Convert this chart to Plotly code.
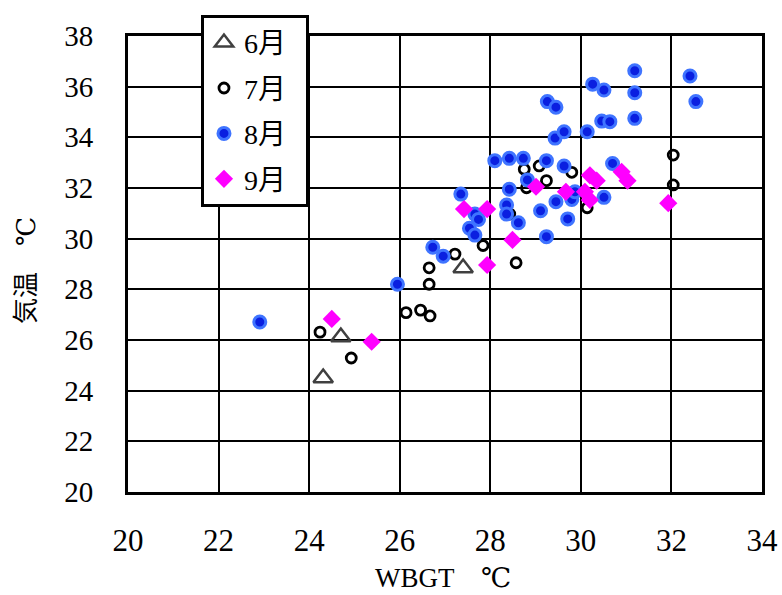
import plotly.graph_objects as go

# ---- data ----
jun_x = [24.70, 24.31, 27.40]
jun_y = [26.12, 24.50, 28.84]

jul_x = [24.24, 24.93, 26.14, 26.46, 26.67, 26.65, 26.65, 27.22, 27.84, 28.57,
         28.75, 29.08, 29.24, 28.80, 28.43, 29.80, 30.14, 32.04, 32.04]
jul_y = [26.31, 25.29, 27.08, 27.18, 26.95, 28.20, 28.85, 29.39, 29.73, 29.05,
         32.74, 32.87, 32.29, 32.01, 30.97, 32.62, 31.22, 33.30, 32.12]

aug_x = [22.91, 25.95, 26.73, 26.96, 27.35, 27.66, 27.74, 27.54, 27.66, 28.10,
         28.42, 28.73, 29.24, 29.63, 28.82, 28.42, 28.36, 28.36, 28.62, 29.11,
         29.45, 29.24, 29.43, 29.71, 29.80, 30.70, 29.87, 30.51, 31.19, 32.41,
         32.54, 30.26, 30.51, 31.19, 29.26, 29.45, 30.46, 30.64, 31.19, 29.63,
         30.14]
aug_y = [26.71, 28.20, 29.66, 29.31, 31.76, 30.97, 30.76, 30.41, 30.14, 33.08,
         33.17, 33.17, 33.08, 32.87, 32.32, 31.95, 31.33, 30.97, 30.63, 31.10,
         31.46, 30.08, 33.97, 30.78, 31.55, 32.97, 31.85, 31.63, 36.63, 36.42,
         35.41, 36.10, 35.87, 35.76, 35.41, 35.19, 34.64, 34.62, 34.75, 34.22,
         34.22]

sep_x = [24.50, 25.38, 27.42, 27.93, 28.49, 27.93, 29.01, 29.67, 30.20, 30.35,
         30.90, 31.03, 30.09, 30.20, 31.93]
sep_y = [26.83, 25.93, 31.17, 31.17, 29.95, 28.96, 32.05, 31.85, 32.50, 32.29,
         32.64, 32.29, 31.85, 31.53, 31.40]

series_names = ["6月", "7月", "8月", "9月"]
x_ticks = [20, 22, 24, 26, 28, 30, 32, 34]
y_ticks = [20, 22, 24, 26, 28, 30, 32, 34, 36, 38]
x_title = "WBGT\u3000℃"
y_title = "気温\u3000℃"

FONT = "'Liberation Serif', 'DejaVu Serif', 'Noto Sans CJK JP', serif"
PAD = "\u2002"

fig = go.Figure()
fig.add_trace(go.Scatter(
    x=jun_x, y=jun_y, mode="markers", name=series_names[0] + PAD, legendgroup="a",
    marker=dict(symbol="triangle-up-open", size=17, color="#404040",
                line=dict(width=2.5, color="#404040"))))
fig.add_trace(go.Scatter(
    x=jul_x, y=jul_y, mode="markers", name=series_names[1] + PAD, legendgroup="b",
    marker=dict(symbol="circle-open", size=10, color="black",
                line=dict(width=2.8, color="black"))))
fig.add_trace(go.Scatter(
    x=aug_x, y=aug_y, mode="markers", name=series_names[2] + PAD, legendgroup="c",
    marker=dict(symbol="circle", size=12, color="#0a1fe0",
                line=dict(width=3, color="#3f74ff"))))
fig.add_trace(go.Scatter(
    x=sep_x, y=sep_y, mode="markers", name=series_names[3] + PAD, legendgroup="d",
    marker=dict(symbol="diamond", size=14, color="#ff00ff",
                line=dict(width=0))))

fig.update_layout(
    width=782, height=595,
    margin=dict(l=128, r=20, t=36, b=103, autoexpand=False),
    paper_bgcolor="white", plot_bgcolor="white",
    font=dict(family=FONT, color="black"),
    showlegend=True,
    legend=dict(xref="container", yref="container", x=0.257, y=0.975,
                xanchor="left", yanchor="top",
                bgcolor="white", bordercolor="black", borderwidth=3,
                font=dict(size=28, family=FONT, color="black"),
                tracegroupgap=6, itemwidth=30),
    xaxis=dict(range=[20, 34], tickvals=x_ticks, ticktext=[str(v) for v in x_ticks],
               showgrid=True, gridcolor="black", gridwidth=2,
               showline=True, linecolor="black", linewidth=3, mirror=True,
               zeroline=False, ticks="", ticklabelstandoff=19,
               tickfont=dict(size=31, family=FONT)),
    yaxis=dict(range=[20, 38], tickvals=y_ticks, ticktext=[str(v) for v in y_ticks],
               showgrid=True, gridcolor="black", gridwidth=2,
               showline=True, linecolor="black", linewidth=3, mirror=True,
               zeroline=False, ticks="", ticklabelstandoff=26,
               tickfont=dict(size=29, family=FONT)),
    annotations=[
        dict(text=x_title, xref="paper", yref="paper", x=0.497, y=-0.189,
             xanchor="center", yanchor="middle", showarrow=False,
             font=dict(size=27, family=FONT, color="black")),
        dict(text=y_title, xref="paper", yref="paper", x=-0.159, y=0.485,
             xanchor="center", yanchor="middle", showarrow=False, textangle=-90,
             font=dict(size=26, family=FONT, color="black")),
    ],
)

fig.write_html("out.html", config={"displayModeBar": False},
               post_script="document.body.style.margin='0';document.body.style.overflow='hidden';")
